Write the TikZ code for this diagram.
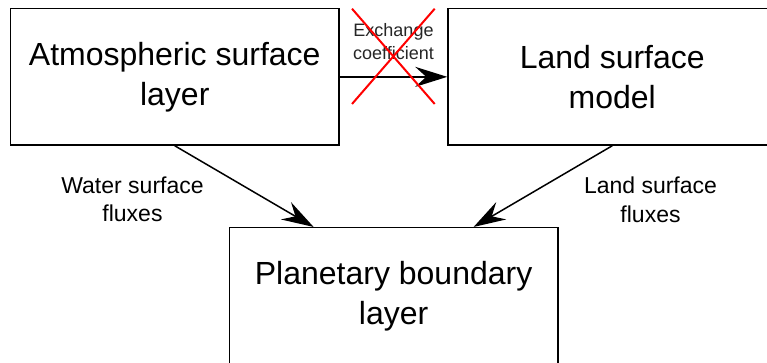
\documentclass[tikz,border=0pt]{standalone}
\usepackage{fontspec}
\setmainfont{Liberation Sans}
\usetikzlibrary{arrows.meta,calc}
\tikzset{
  box/.style={draw=black, line width=1.5pt, fill=white, minimum width=328.5pt, minimum height=136.3pt, inner sep=0pt, align=center, font=\fontsize{32}{40}\selectfont},
  lbl/.style={align=center, inner sep=0pt, anchor=base, font=\fontsize{23}{28.7}\selectfont},
  smalllbl/.style={align=center, inner sep=0pt, anchor=base, text=black!85, font=\fontsize{18}{23.4}\selectfont},
  arr/.style={draw=black, line width=1.5pt, -{Stealth[length=32pt,width=20pt,inset=11pt]}},
  cross/.style={draw=red, line width=2pt}
}
\begin{document}
\begin{tikzpicture}[x=1pt,y=-1pt]
\useasboundingbox (0,0) rectangle (767,362);
\node[box] (asl) at (174.75,76.85) {Atmospheric surface\\layer};
\node[box] (lsm) at (612.25,76.85) {Land surface\\model};
\node[box] (pbl) at (393.6,295.85) {Planetary boundary\\layer};
\node[smalllbl] (exc) at (393.5,59.6) {Exchange\\coefficient};
\draw[arr] (asl.east) -- (lsm.west);
\coordinate (xtl) at (352,8.7);
\coordinate (xbr) at (434.7,104);
\coordinate (xtr) at (434.7,8.7);
\coordinate (xbl) at (352,104);
\draw[cross] (xtl) -- (xbr);
\draw[cross] (xtr) -- (xbl);
\draw[arr] (asl.south) -- ($(pbl.north)+(-80,0)$);
\draw[arr] (lsm.south) -- ($(pbl.north)+(80,0)$);
\node[lbl] (wsf) at (132.5,221.7) {Water surface\\fluxes};
\node[lbl] (lsf) at (650.5,222) {Land surface\\fluxes};
\end{tikzpicture}
\end{document}
